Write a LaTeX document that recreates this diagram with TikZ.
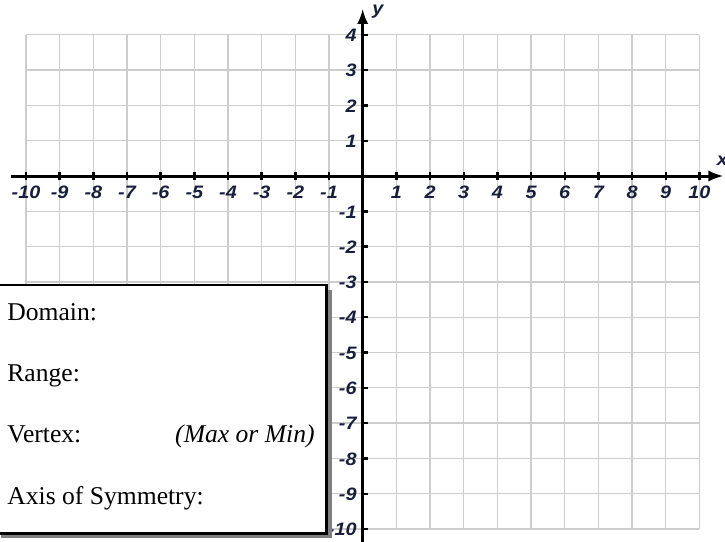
\documentclass[tikz,border=0pt]{standalone}
\usepackage{fontspec}
\setmainfont{Liberation Serif}
\newfontfamily\axisfont[FakeStretch=1.1]{Liberation Sans}
\usetikzlibrary{arrows}
\definecolor{gridgray}{RGB}{205,205,205}
\definecolor{labelblue}{RGB}{25,30,60}

\begin{document}
\begin{tikzpicture}[
    x=16.835pt, y=17.65pt,
    gridline/.style={draw=gridgray, line width=0.65pt},
    axisline/.style={->, >=latex, line width=1.5pt},
    ticklabel/.style={font=\axisfont\fontsize{9}{10}\selectfont\bfseries\itshape, text=labelblue, inner sep=0pt},
    infobox/.style={draw=black, line width=1.3pt, fill=white},
    shadowbox/.style={fill=black!50},
    boxtext/.style={font=\fontsize{12.8}{15}\selectfont, inner sep=0pt}
]
\useasboundingbox (-10.772,-10.34) rectangle (10.760,4.986);

% grid
\foreach \i in {-10,...,10}
    \draw[gridline] (\i,-10) -- (\i,4);
\foreach \j in {-10,...,4}
    \draw[gridline] (-10,\j) -- (10,\j);

% axes
\draw[axisline] (-10.45,0) -- (10.70,0);
\draw[axisline] (0,-10.5) -- (0,4.72);
\node[ticklabel] (xlab) at (10.68,0.42) {x};
\node[ticklabel] (ylab) at (0.45,4.66) {y};

% ticks and numbers
\foreach \i in {-10,...,-1,1,2,...,10} {
    \draw[line width=1.2pt] (\i,-0.1) -- (\i,0.1);
    \node[ticklabel, anchor=base] (xt\i) at (\i,-0.64) {\i};
}
\foreach \j in {-10,...,-1,1,2,...,4} {
    \draw[line width=1.2pt] (0,\j) -- (0.15,\j);
    \node[ticklabel, anchor=base east] (yt\j) at (-0.17,\j-0.19) {\j};
}

% info box
\fill[shadowbox] (-10.75,-3.23) rectangle (-0.92,-10.26);
\draw[infobox] (-10.9,-3.09) rectangle (-1.07,-10.12);
\node[boxtext, anchor=base west] (domain) at (-10.564,-4.08) {Domain:};
\node[boxtext, anchor=base west] (range) at (-10.564,-5.82) {Range:};
\node[boxtext, anchor=base west] (vertex) at (-10.564,-7.56) {Vertex:};
\node[boxtext, anchor=base east] (maxmin) at (-1.417,-7.56) {\itshape (Max or Min)};
\node[boxtext, anchor=base west] (axis) at (-10.564,-9.31) {Axis of Symmetry:};

\end{tikzpicture}
\end{document}
